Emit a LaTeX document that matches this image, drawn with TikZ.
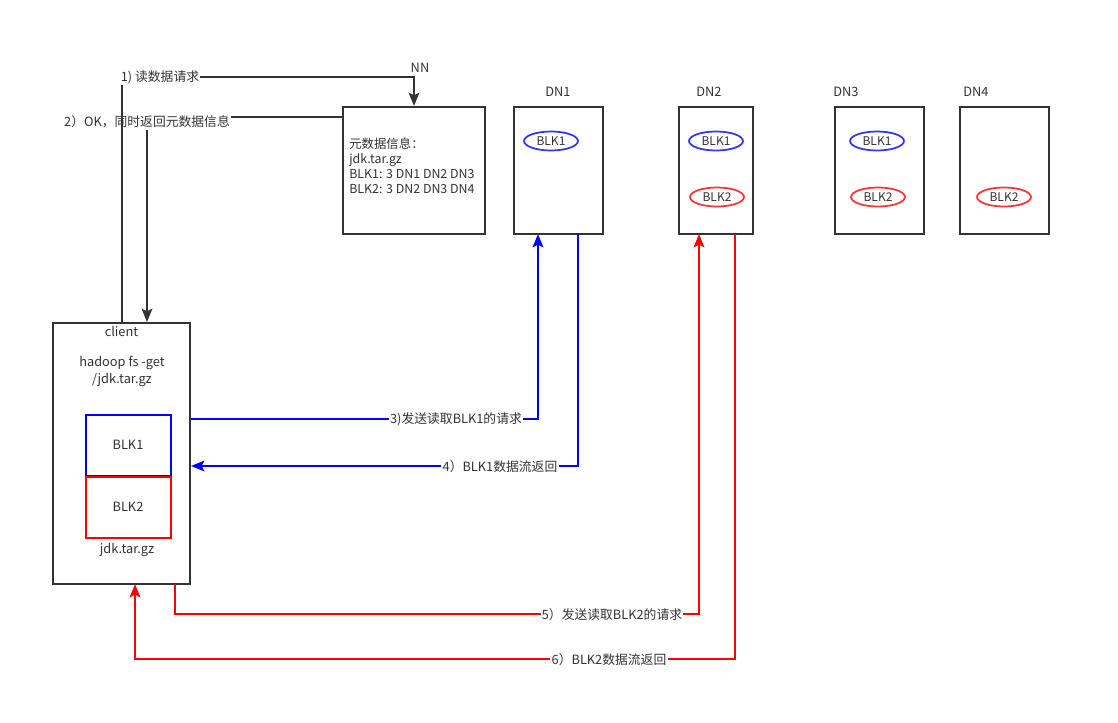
\documentclass[tikz,border=0pt]{standalone}
\usepackage{fontspec}
\setmainfont{Noto Sans CJK SC}
\usetikzlibrary{arrows.meta,shapes.geometric}
\definecolor{ink}{HTML}{333333}
\definecolor{bl}{HTML}{0000FF}
\definecolor{rd}{HTML}{FF0000}
\definecolor{ebl}{HTML}{3333FF}
\definecolor{erd}{HTML}{FF3333}
\tikzset{
  box/.style={draw=ink, line width=1.5pt, rectangle, inner sep=0pt},
  blkell/.style={ellipse, line width=1.3pt, inner sep=0pt, minimum width={54*0.75pt}, minimum height={19*0.75pt}, font=\fontsize{9pt}{10pt}\selectfont, text=ink},
  conn/.style={line width=1.5pt},
  tip/.style={-{Stealth[length=10pt,width=8pt,inset=2pt]}},
  lbl/.style={fill=white, inner sep=1pt, text=ink, font=\fontsize{9.6pt}{11pt}\selectfont},
  txt/.style={inner sep=0pt, text=ink, font=\fontsize{9.6pt}{11pt}\selectfont}
}
\begin{document}
\begin{tikzpicture}[x=0.75pt,y=-0.75pt]
\useasboundingbox[fill=white] (0,0) rectangle (1118,722);

% boxes
\node[box, minimum width={142*0.75pt}, minimum height={127*0.75pt}] (NN) at (414,170.5) {};
\node[box, minimum width={89*0.75pt}, minimum height={127*0.75pt}] (DN1) at (558.5,170.5) {};
\node[box, minimum width={74*0.75pt}, minimum height={127*0.75pt}] (DN2) at (716,170.5) {};
\node[box, minimum width={89*0.75pt}, minimum height={127*0.75pt}] (DN3) at (879.5,170.5) {};
\node[box, minimum width={89*0.75pt}, minimum height={127*0.75pt}] (DN4) at (1004.5,170.5) {};
\node[box, minimum width={137*0.75pt}, minimum height={261*0.75pt}] (client) at (121.5,453.5) {};

% titles
\node[txt] (tNN) at (420,68) {NN};
\node[txt] (tDN1) at (558,92) {DN1};
\node[txt] (tDN2) at (709,92) {DN2};
\node[txt] (tDN3) at (846,92) {DN3};
\node[txt] (tDN4) at (976,92) {DN4};

% NN metadata
\node[txt, anchor=west, align=left, font=\fontsize{9.3pt}{11.2pt}\selectfont] (meta) at (349,166) {元数据信息：\\jdk.tar.gz\\BLK1: 3 DN1 DN2 DN3\\BLK2: 3 DN2 DN3 DN4};

% block ellipses
\node[blkell, draw=ebl] (d1b1) at (551,141) {BLK1};
\node[blkell, draw=ebl] (d2b1) at (716,141) {BLK1};
\node[blkell, draw=erd] (d2b2) at (717,197) {BLK2};
\node[blkell, draw=ebl] (d3b1) at (877,141) {BLK1};
\node[blkell, draw=erd] (d3b2) at (878,197) {BLK2};
\node[blkell, draw=erd] (d4b2) at (1004,197) {BLK2};

% client content
\node[txt] (ctitle) at (121.5,331) {client};
\node[txt, align=center, font=\fontsize{9.6pt}{13pt}\selectfont] (cmd) at (122,371.5) {hadoop fs -get\\/jdk.tar.gz};
\node[draw=rd, line width=1.5pt, inner sep=0pt, minimum width={85*0.75pt}, minimum height={62*0.75pt}, text=ink, font=\fontsize{9.6pt}{11pt}\selectfont] (cb2) at (128,507) {BLK2};
\node[draw=bl, line width=1.5pt, inner sep=0pt, minimum width={85*0.75pt}, minimum height={61*0.75pt}, text=ink, font=\fontsize{9.6pt}{11pt}\selectfont] (cb1) at (128,445.2) {BLK1};
\draw[draw=rd, line width=1.5pt] (cb1.south west) -- (cb1.south east);
\node[txt] (cfile) at (127,550) {jdk.tar.gz};

% coordinates on box edges
\coordinate (c1) at (122,323);
\coordinate (c2) at (147,117);
\coordinate (d1in) at (538,234);
\coordinate (d1out) at (578,234);
\coordinate (c5) at (175,584);
\coordinate (c6) at (135,584);
\coordinate (d2in) at (699,234);
\coordinate (d2out) at (735,234);

% 2) reply from NN
\draw[conn, tip, draw=ink] (NN.west |- c2) -- (c2) -- (c2 |- client.north);
\node[lbl] (l2) at (147,122) {2）OK，同时返回元数据信息};

% 1) read request
\draw[conn, tip, draw=ink] (c1) -- ++(0,-246) -| (NN.north);
\node[lbl] (l1) at (160,77) {1) 读数据请求};

% 3) request BLK1
\draw[conn, tip, draw=bl] (client.east |- 0,419) -| (d1in);
\node[lbl] (l3) at (456,419) {3)发送读取BLK1的请求};

% 4) BLK1 stream back
\draw[conn, tip, draw=bl] (d1out) |- (client.east |- 0,466);
\node[lbl] (l4) at (500,466.5) {4）BLK1数据流返回};

% 5) request BLK2
\draw[conn, tip, draw=rd] (c5) |- (d2in |- 0,614) -- (d2in);
\node[lbl] (l5) at (612,614.5) {5）发送读取BLK2的请求};

% 6) BLK2 stream back
\draw[conn, tip, draw=rd] (d2out) |- (c6 |- 0,659) -- (c6);
\node[lbl] (l6) at (609,660) {6）BLK2数据流返回};
\end{tikzpicture}
\end{document}
